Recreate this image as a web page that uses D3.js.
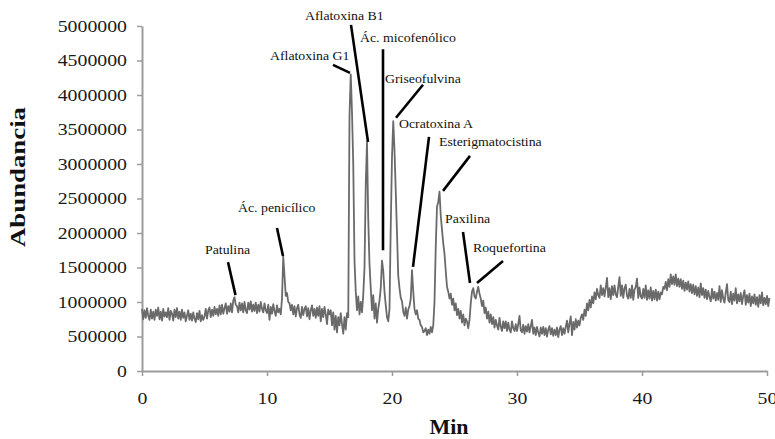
<!DOCTYPE html>
<html lang="es">
<head>
<meta charset="utf-8">
<title>Cromatograma micotoxinas</title>
<script src="https://d3js.org/d3.v7.min.js"></script>
<style>
  body { margin: 0; background: #fff; }
  svg { display: block; }
  svg text { font-family: "Liberation Serif", "Times New Roman", serif; }
</style>
</head>
<body>
<script>

// trace sampling
var startMin = 0;
var stepMin = 0.1;

// abundance in thousands, one row = one minute (10 samples)
var abundanceK = [
  [900, 750, 880, 770, 910, 800, 740, 890, 760, 860],        // 0
  [740, 890, 800, 920, 750, 860, 730, 900, 790, 850],        // 1
  [780, 910, 740, 870, 830, 730, 890, 780, 910, 760],        // 2
  [860, 740, 890, 770, 850, 720, 800, 880, 740, 830],        // 3
  [730, 850, 760, 710, 840, 750, 870, 720, 810, 740],        // 4
  [790, 900, 760, 880, 920, 780, 890, 800, 930, 820],        // 5
  [900, 800, 950, 820, 960, 830, 910, 980, 830, 940],        // 6
  [860, 980, 850, 1020, 1070, 960, 940, 850, 990, 880],      // 7
  [980, 850, 1000, 880, 840, 990, 890, 1010, 860, 960],      // 8
  [870, 990, 840, 960, 860, 1000, 900, 850, 980, 880],       // 9
  [840, 960, 740, 930, 830, 970, 870, 800, 950, 850],        // 10
  [900, 820, 1050, 1660, 1380, 1090, 1130, 1000, 980, 880],  // 11
  [960, 820, 940, 790, 910, 960, 820, 770, 930, 810],        // 12
  [900, 940, 790, 910, 750, 880, 950, 800, 900, 770],        // 13
  [920, 800, 940, 720, 900, 780, 930, 820, 680, 890],        // 14
  [820, 880, 660, 850, 600, 800, 560, 780, 660, 840],        // 15
  [680, 540, 780, 600, 840, 780, 3700, 4300, 3750, 3000],    // 16
  [1600, 1150, 880, 1080, 820, 1000, 850, 1100, 1500, 2700], // 17
  [3320, 2200, 1550, 1200, 880, 1100, 760, 980, 700, 900],   // 18
  [1020, 1200, 1600, 1450, 1150, 950, 780, 720, 900, 2100],  // 19
  [3100, 3620, 3200, 2600, 2000, 1380, 1200, 1060, 1010, 860], // 20
  [800, 920, 760, 890, 940, 1050, 1460, 1150, 900, 820],     // 21
  [880, 760, 740, 660, 640, 560, 580, 620, 520, 600],        // 22
  [540, 640, 560, 660, 1000, 1800, 2380, 2450, 2600, 2250],  // 23
  [2050, 1850, 1700, 1450, 1220, 1150, 1050, 1120, 960, 1050], // 24
  [880, 980, 810, 900, 760, 870, 700, 820, 660, 760],        // 25
  [720, 620, 740, 980, 1150, 1200, 1080, 1050, 1150, 1220],  // 26
  [1120, 1050, 940, 1020, 840, 920, 760, 860, 700, 820],     // 27
  [680, 780, 630, 740, 660, 600, 770, 640, 580, 720],        // 28
  [620, 720, 580, 700, 600, 560, 720, 620, 580, 680],        // 29
  [580, 680, 800, 590, 560, 670, 540, 650, 570, 680],        // 30
  [560, 650, 740, 540, 630, 520, 640, 560, 500, 630],        // 31
  [540, 640, 520, 620, 500, 600, 650, 530, 620, 510],        // 32
  [600, 520, 630, 490, 600, 650, 520, 620, 540, 640],        // 33
  [730, 560, 690, 790, 520, 710, 600, 750, 630, 730],        // 34
  [660, 770, 820, 740, 890, 800, 980, 880, 1030, 920],       // 35
  [1080, 980, 1140, 1040, 1190, 1100, 1060, 1240, 1100, 1200], // 36
  [1080, 1210, 1350, 1070, 1200, 1040, 1230, 1100, 1240, 1110], // 37
  [1070, 1220, 1360, 1090, 1240, 1060, 1200, 1250, 1090, 1050], // 38
  [1190, 1060, 1240, 1030, 1180, 1220, 1340, 1060, 1210, 1080], // 39
  [1050, 1190, 1060, 1240, 1030, 1170, 1050, 1210, 1020, 1160], // 40
  [1040, 1180, 1020, 1150, 1040, 1140, 1110, 1220, 1190, 1290], // 41
  [1170, 1330, 1220, 1400, 1260, 1370, 1250, 1400, 1230, 1340], // 42
  [1220, 1330, 1190, 1310, 1160, 1280, 1180, 1300, 1150, 1260], // 43
  [1130, 1250, 1110, 1230, 1090, 1210, 1070, 1270, 1100, 1200], // 44
  [1060, 1180, 1040, 1160, 1070, 1010, 1190, 1050, 1150, 1020], // 45
  [1130, 1030, 1230, 1000, 1170, 1050, 990, 1140, 1260, 1030],  // 46
  [1000, 1150, 970, 1120, 1020, 1200, 980, 1110, 1010, 1130],   // 47
  [970, 1090, 1170, 960, 1100, 990, 1120, 940, 1080, 980],      // 48
  [1110, 960, 1070, 930, 1100, 980, 1140, 950, 1060, 970],      // 49
  [1090, 940, 1060]                                            // 50
];

// labelled peaks (where each pointer line ends)
var peakNames = ["Patulina", "Ác. penicílico", "Aflatoxina G1", "Aflatoxina B1",
  "Ác. micofenólico", "Griseofulvina", "Ocratoxina A", "Esterigmatocistina",
  "Paxilina", "Roquefortina"];
var peakMinutes = [7.48, 11.28, 16.64, 18.08, 19.28, 20.32, 21.68, 24.08, 26.24, 26.8];
var peakAbund = [1100000, 1667000, 4320000, 3320000, 1750000, 3670000, 1510000, 2610000, 1275000, 1275000];

var xTicks = [0, 10, 20, 30, 40, 50];
var yTicks = [0, 500000, 1000000, 1500000, 2000000, 2500000, 3000000, 3500000, 4000000, 4500000, 5000000];

// pointer start (lx, ly) and label anchor (tx, ty), px offsets from the peak point
var labelLayout = [
  {lx: -7.5, ly: -33, tx: -30.5, ty: -41},
  {lx: -6, ly: -28, tx: -45, ty: -44},
  {lx: -17, ly: -8, tx: -80, ty: -13},
  {lx: -17, ly: -117, tx: -63, ty: -122},
  {lx: 0, ly: -201, tx: -23, ty: -208},
  {lx: 27, ly: -33, tx: -11, ty: -35},
  {lx: 16, ly: -130, tx: -14, ty: -139},
  {lx: 27, ly: -35, tx: -4, ty: -45},
  {lx: -7, ly: -51, tx: -25, ty: -60},
  {lx: 26, ly: -22, tx: -4, ty: -31}
];

var w = 775;
var h = 439;
var serif = "'Liberation Serif', 'Times New Roman', serif";

var trace = abundanceK.flat().map(function(v, i) {
  return {min: startMin + i * stepMin, ab: v * 1000};
});

var x = d3.scaleLinear().domain([0, 50]).range([142, 767]);
var y = d3.scaleLinear().domain([0, 5000000]).range([371, 26]);

var svg = d3.select("body").append("svg")
  .attr("width", w)
  .attr("height", h);

// stretch text a bit wider, like the source picture
function widen(sel, k) {
  sel.each(function() {
    var len = this.getComputedTextLength();
    d3.select(this).attr("textLength", len * k).attr("lengthAdjust", "spacingAndGlyphs");
  });
}

// axes
var xAxis = svg.append("g")
  .attr("transform", "translate(0," + y(0) + ")")
  .call(d3.axisBottom(x).tickValues(xTicks).tickSize(5).tickSizeOuter(0).tickPadding(16));

var yAxis = svg.append("g")
  .attr("transform", "translate(" + x(0) + ",0)")
  .call(d3.axisLeft(y).tickValues(yTicks).tickSize(5).tickSizeOuter(0).tickPadding(10)
    .tickFormat(d3.format("d")));

[xAxis, yAxis].forEach(function(g) {
  g.attr("font-family", serif);
  g.select(".domain").attr("stroke", "#9c9c9c").attr("stroke-width", 2);
  g.selectAll(".tick line").attr("stroke", "#9c9c9c").attr("stroke-width", 1.5);
  g.selectAll(".tick text")
    .attr("fill", "#1a1a1a")
    .attr("font-family", serif)
    .attr("font-size", 16.5);
  widen(g.selectAll(".tick text"), 1.2);
});

// trace
var line = d3.line()
  .x(function(d) { return x(d.min); })
  .y(function(d) { return y(d.ab); });

svg.append("path")
  .datum(trace)
  .attr("fill", "none")
  .attr("stroke", "#6a6a6a")
  .attr("stroke-width", 1.8)
  .attr("stroke-linejoin", "round")
  .attr("d", line);

// peak pointers and names
var peaks = peakNames.map(function(name, i) {
  return {name: name, px: x(peakMinutes[i]), py: y(peakAbund[i]), lay: labelLayout[i]};
});

svg.append("g").selectAll("line")
  .data(peaks)
  .join("line")
  .attr("x1", function(d) { return d.px + d.lay.lx; })
  .attr("y1", function(d) { return d.py + d.lay.ly; })
  .attr("x2", function(d) { return d.px; })
  .attr("y2", function(d) { return d.py; })
  .attr("stroke", "#000")
  .attr("stroke-width", 2.6);

var names = svg.append("g").selectAll("text")
  .data(peaks)
  .join("text")
  .attr("x", function(d) { return d.px + d.lay.tx; })
  .attr("y", function(d) { return d.py + d.lay.ty; })
  .attr("fill", "#111")
  .attr("font-family", serif)
  .attr("font-size", 12)
  .text(function(d) { return d.name; });
widen(names, 1.15);

// axis titles
var xTitle = svg.append("text")
  .attr("x", 449)
  .attr("y", 434)
  .attr("text-anchor", "middle")
  .attr("fill", "#111")
  .attr("font-family", serif)
  .attr("font-size", 20)
  .attr("font-weight", "bold")
  .text("Min");
widen(xTitle, 1.1);

var yTitle = svg.append("text")
  .attr("transform", "translate(25,177) rotate(-90)")
  .attr("text-anchor", "middle")
  .attr("fill", "#111")
  .attr("font-family", serif)
  .attr("font-size", 22)
  .attr("font-weight", "bold")
  .text("Abundancia");
yTitle.attr("textLength", 140).attr("lengthAdjust", "spacingAndGlyphs");

</script>
</body>
</html>
